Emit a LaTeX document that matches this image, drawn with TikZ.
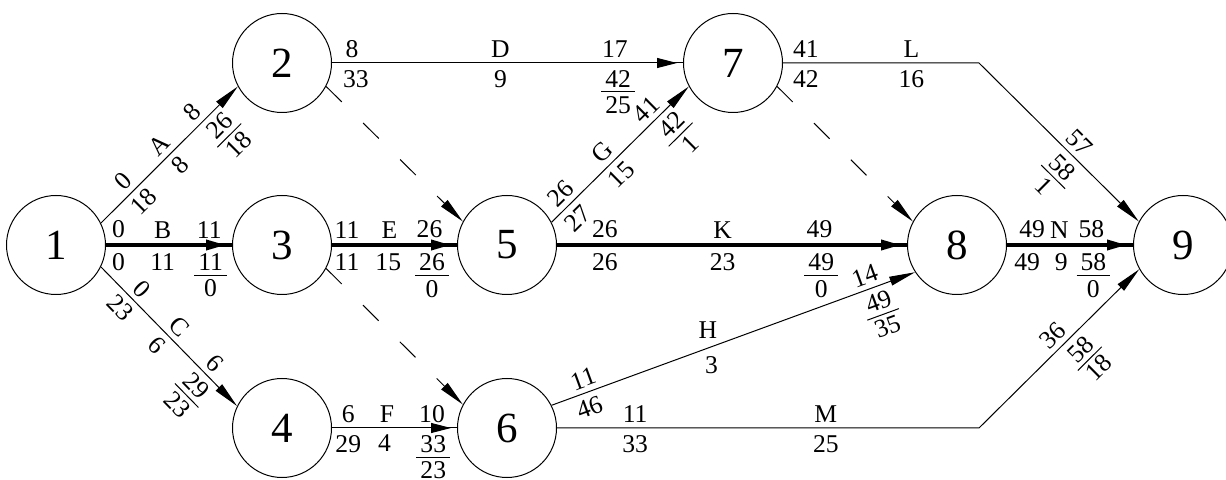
\documentclass[tikz,border=0pt]{standalone}
\usepackage{fontspec}
\setmainfont{Liberation Serif}
\usetikzlibrary{arrows.meta,decorations.markings}
\newcommand{\fr}[2]{\vbox{\offinterlineskip\halign{\hfil##\hfil\cr\kern2pt#1\kern2pt\cr\noalign{\kern2.2pt\hrule height0.5pt\kern2pt}#2\cr}}}
\begin{document}
\begin{tikzpicture}[x=0.5pt,y=-0.5pt,
  ev/.style={circle,draw,line width=0.5pt,minimum size=49.5pt,inner sep=0pt,font=\fontsize{21.5}{21.5}\selectfont},
  lab/.style={font=\fontsize{12.8}{12.8}\selectfont,inner sep=0pt},
  lup/.style={lab,above=2.5pt},
  ldn/.style={lab,below=3.3pt},
  slup/.style={lab,sloped,above=2.5pt},
  sldn/.style={lab,sloped,below=3pt},
  act/.style={line width=0.5pt},
  crit/.style={line width=1.8pt},
  darr/.style={-{Triangle[length=13pt,width=4.5pt]}},
  harr/.style={postaction={decorate},decoration={markings,mark=at position -3pt with {\arrow{Triangle[length=10pt,width=5pt]}}}},
  dsh/.style={line width=0.5pt,dash pattern=on 11pt off 15pt,-{Triangle[length=13pt,width=4.5pt]}}
]
\useasboundingbox (0,0) rectangle (1226,480);
\clip (0,0) rectangle (1226,480);
\node[ev] (n1) at (56,245) {1};
\node[ev] (n2) at (282,63) {2};
\node[ev] (n3) at (282,245) {3};
\node[ev] (n4) at (282,428) {4};
\node[ev] (n5) at (507,245) {5};
\node[ev] (n6) at (507,428) {6};
\node[ev] (n7) at (733,63) {7};
\node[ev] (n8) at (957,245) {8};
\node[ev] (n9) at (1183,245) {9};
\coordinate (lc) at (979,63);
\coordinate (mc) at (979,428);
% A
\draw[act,darr] (n1.26) -- node[pos=.235,slup]{0} node[pos=.235,sldn]{18} node[pos=.5,slup]{A} node[pos=.5,sldn]{8} node[pos=.74,slup]{8} node[pos=.79,sldn]{\fr{26}{18}} (n2.208);
% B
\draw[crit,harr] (n1.east) -- node[pos=.1,lup]{0} node[pos=.1,ldn]{0} node[pos=.45,lup]{B} node[pos=.45,ldn]{11} node[pos=.82,lup]{11} node[pos=.83,ldn]{\fr{11}{0}} (n3.west);
% C
\draw[act,darr] (n1.334) -- node[pos=.23,slup]{0} node[pos=.22,sldn]{23} node[pos=.5,slup]{C} node[pos=.49,sldn]{6} node[pos=.76,slup]{6} node[pos=.78,sldn]{\fr{29}{23}} (n4.154);
% D
\draw[act,harr] (n2.east) -- node[pos=.057,lup]{8} node[pos=.068,ldn]{33} node[pos=.48,lup]{D} node[pos=.48,ldn]{9} node[pos=.806,lup]{17} node[pos=.815,ldn]{\fr{42}{25}} (n7.west);
% E
\draw[crit,harr] (n3.east) -- node[pos=.12,lup]{11} node[pos=.12,ldn]{11} node[pos=.46,lup]{E} node[pos=.45,ldn]{15} node[pos=.78,lup]{26} node[pos=.8,ldn]{\fr{26}{0}} (n5.west);
% F
\draw[act,harr] (n4.east) -- node[pos=.13,lup]{6} node[pos=.13,ldn]{29} node[pos=.44,lup]{F} node[pos=.42,ldn]{4} node[pos=.8,lup]{10} node[pos=.81,ldn]{\fr{33}{23}} (n6.west);
% G
\draw[act,darr] (n5.27) -- node[pos=.14,slup]{26} node[pos=.11,sldn]{27} node[pos=.44,slup]{G} node[pos=.43,sldn]{15} node[pos=.76,slup]{41} node[pos=.795,sldn]{\fr{42}{1}} (n7.208);
% H
\draw[act,darr] (n6.27) -- node[pos=.1,slup]{11} node[pos=.09,sldn]{46} node[pos=.43,lab,above=4.5pt]{H} node[pos=.44,lab,below=4.5pt]{3} node[pos=.875,slup]{14} node[pos=.885,sldn]{\fr{49}{35}} (n8.213);
% K
\draw[crit,harr] (n5.east) -- node[pos=.137,lup]{26} node[pos=.137,ldn]{26} node[pos=.473,lup]{K} node[pos=.473,ldn]{23} node[pos=.75,lup]{49} node[pos=.755,ldn]{\fr{49}{0}} (n8.west);
% L
\draw[act,darr] (n7.east) -- node[pos=.117,lup]{41} node[pos=.117,ldn]{42} node[pos=.655,lup]{L} node[pos=.655,ldn]{16} (lc) -- node[pos=.565,slup]{57} node[pos=.59,sldn]{\fr{58}{1}} (n9.152);
% M
\draw[act,darr] (n6.east) -- node[pos=.185,lup]{11} node[pos=.185,ldn]{33} node[pos=.637,lup]{M} node[pos=.637,ldn]{25} (mc) -- node[pos=.52,slup]{36} node[pos=.565,sldn]{\fr{58}{18}} (n9.209);
% N
\draw[crit,harr] (n8.east) -- node[pos=.2,lup]{49} node[pos=.16,ldn]{49} node[pos=.415,lup]{N} node[pos=.43,ldn]{9} node[pos=.67,lup]{58} node[pos=.685,ldn]{\fr{58}{0}} (n9.west);
% dummies
\draw[dsh] (n2.332) -- (n5.152);
\draw[dsh] (n3.332) -- (n6.152);
\draw[dsh] (n7.332) -- (n8.152);
\end{tikzpicture}
\end{document}
